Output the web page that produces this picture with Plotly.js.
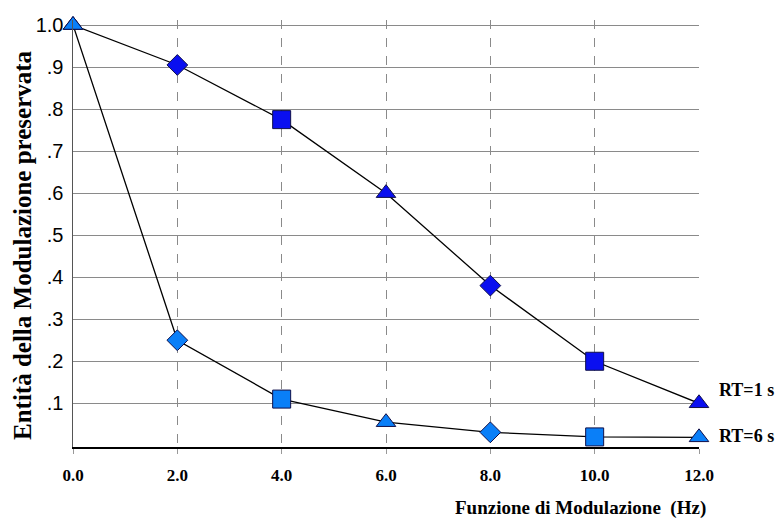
<!DOCTYPE html>
<html>
<head>
<meta charset="utf-8">
<script src="https://cdn.plot.ly/plotly-3.0.1.min.js"></script>
<style>html,body{margin:0;padding:0;background:#fff;}#chart{width:780px;height:523px;}</style>
</head>
<body>
<div id="chart"></div>
<script>
const freqs = [0, 2, 4, 6, 8, 10, 12];
const rt1Values = [1.0, 0.905, 0.775, 0.60, 0.38, 0.20, 0.10];
const rt6Values = [1.0, 0.25, 0.11, 0.055, 0.031, 0.02, 0.019];
const markerSymbols = ['triangle-up', 'diamond', 'square', 'triangle-up', 'diamond', 'square', 'triangle-up'];
const markerSizes = [17, 16, 18, 17, 16, 18, 17];
const seriesNames = ['RT=1 s', 'RT=6 s'];
const xTickVals = [0, 2, 4, 6, 8, 10, 12];
const xTickText = ['0.0', '2.0', '4.0', '6.0', '8.0', '10.0', '12.0'];
const yTickVals = [0.1, 0.2, 0.3, 0.4, 0.5, 0.6, 0.7, 0.8, 0.9, 1.0];
const yTickText = ['.1', '.2', '.3', '.4', '.5', '.6', '.7', '.8', '.9', '1.0'];
const xTitle = 'Funzione di Modulazione  (Hz)';
const yTitle = 'Entità della Modulazione preservata';

const serif = 'Liberation Serif, Times New Roman, serif';
const sans = 'Liberation Sans, Arial, sans-serif';

function series(y, name, color) {
  return {
    x: freqs, y: y, name: name, type: 'scatter', mode: 'lines+markers',
    cliponaxis: false, opacity: 1,
    line: {color: '#000', width: 1.3},
    marker: {symbol: markerSymbols, size: markerSizes, color: color, opacity: 1, line: {color: '#10104a', width: 1}}
  };
}

const data = [
  series(rt1Values, seriesNames[0], '#0a0ff0'),
  series(rt6Values, seriesNames[1], '#0a7ff8')
];

const W = 780, H = 523;
const M = {l: 73, r: 81, t: 20, b: 76};
const pw = W - M.l - M.r, ph = H - M.t - M.b;
const px2x = p => (p - M.l) / pw;
const px2y = p => (H - M.b - p) / ph;

const layout = {
  width: W, height: H,
  margin: M,
  paper_bgcolor: '#fff', plot_bgcolor: '#fff',
  showlegend: false,
  xaxis: {
    range: [0, 12], tickvals: xTickVals, ticktext: xTickText,
    showgrid: true, gridcolor: '#8a8a8a', griddash: 'dash', gridwidth: 1,
    zeroline: false, showline: true, linecolor: '#000', linewidth: 2,
    ticks: 'outside', ticklen: 5, tickcolor: '#999',
    ticklabelstandoff: 7,
    tickfont: {family: serif, size: 17, color: '#000', weight: 'bold'}
  },
  yaxis: {
    range: [-0.004, 1.012], tickvals: yTickVals, ticktext: yTickText,
    showgrid: true, gridcolor: '#8a8a8a', gridwidth: 1,
    zeroline: false, showline: true, linecolor: '#555', linewidth: 1.5,
    ticks: '', ticklabelstandoff: 4,
    tickfont: {family: sans, size: 20, color: '#000'}
  },
  annotations: [
    {x: px2x(580), y: px2y(508), xref: 'paper', yref: 'paper', text: xTitle, showarrow: false,
     xanchor: 'center', yanchor: 'middle',
     font: {family: serif, size: 19, color: '#000', weight: 'bold'}},
    {x: px2x(23), y: px2y(245), xref: 'paper', yref: 'paper', text: yTitle, showarrow: false,
     textangle: -90, xanchor: 'center', yanchor: 'middle',
     font: {family: serif, size: 25, color: '#000', weight: 'bold'}},
    {x: 12, y: rt1Values[6], xref: 'x', yref: 'y', text: seriesNames[0], showarrow: false, xanchor: 'left', xshift: 18, yshift: 13,
     font: {family: serif, size: 18, color: '#000', weight: 'bold'}},
    {x: 12, y: rt6Values[6], xref: 'x', yref: 'y', text: seriesNames[1], showarrow: false, xanchor: 'left', xshift: 18, yshift: 1,
     font: {family: serif, size: 18, color: '#000', weight: 'bold'}}
  ]
};

Plotly.newPlot('chart', data, layout, {displayModeBar: false, staticPlot: true});
</script>
</body>
</html>
